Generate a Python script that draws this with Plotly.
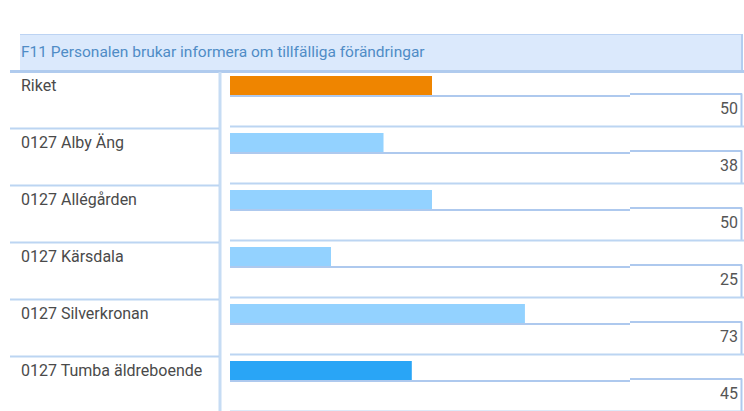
import plotly.graph_objects as go

# ---- data ----
categories = ["Riket", "0127 Alby Äng", "0127 Allégården", "0127 Kärsdala",
              "0127 Silverkronan", "0127 Tumba äldreboende"]
values = [50, 38, 50, 25, 73, 45]
title_text = "F11 Personalen brukar informera om tillfälliga förändringar"
bar_colors = ["#ef8500", "#93d2ff", "#93d2ff", "#93d2ff", "#93d2ff", "#29a5f6"]

W, H = 744, 411
ROW = 57.0          # pixel pitch of a row
FIRST = 85.5        # pixel centre of first bar
BAR_PX = 19.0
X0, X100 = 230, 634  # pixel positions of value 0 and 100

LINE = "#bcd5f2"
LINE_D = "#aec9ee"
LABEL_FONT = "Roboto"


def px(x):
    return x / W


def py(y):
    return 1 - y / H


shapes = []


def hline(x0, x1, y, w=2, color=LINE):
    shapes.append(dict(type="line", xref="paper", yref="paper",
                       x0=px(x0), x1=px(x1), y0=py(y), y1=py(y),
                       line=dict(color=color, width=w)))


def vline(x, y0, y1, w=2, color=LINE):
    shapes.append(dict(type="line", xref="paper", yref="paper",
                       x0=px(x), x1=px(x), y0=py(y0), y1=py(y1),
                       line=dict(color=color, width=w)))


# title box
shapes.append(dict(type="rect", xref="paper", yref="paper",
                   x0=px(20), x1=px(741), y0=py(70), y1=py(35),
                   fillcolor="#dbe9fc", line=dict(width=0), layer="below"))
hline(20, 743, 34.5, 1, "#bcd3f3")
vline(742, 34, 72, 2, "#b3cdf0")
hline(10, 744, 71.5, 3, "#b0cbee")
# vertical divider
vline(220, 72, 411, 3, "#c6dcf4")

annotations = [dict(text=title_text, xref="paper", yref="paper", x=px(19), y=py(52),
                    xanchor="left", yanchor="middle", showarrow=False,
                    font=dict(family=LABEL_FONT, size=15.5, color="#4f8cc6"))]

for i, (cat, v) in enumerate(zip(categories, values)):
    c = FIRST + ROW * i
    bot = c + BAR_PX / 2
    # line under bar
    hline(X0, 630, bot + 1, 2, LINE_D)
    # value box
    hline(630, 742, bot - 1, 2, LINE_D)
    vline(741.5, bot - 1.5, bot + 32, 2, LINE_D)
    hline(X0, 744, bot + 31.5, 2, LINE)
    # left separator (row boundary)
    if i < len(categories) - 1:
        hline(10, 219, bot + 33.5, 2, LINE)
    annotations.append(dict(text=cat, xref="paper", yref="y", x=px(19), y=i,
                            xanchor="left", yanchor="middle", showarrow=False,
                            font=dict(family=LABEL_FONT, size=16, color="#4a4a4a")))
    annotations.append(dict(text=str(v), xref="paper", yref="y", x=px(740), y=i + 23 / ROW,
                            xanchor="right", yanchor="middle", showarrow=False,
                            font=dict(family=LABEL_FONT, size=16, color="#555555")))

fig = go.Figure(go.Bar(
    x=values, y=list(range(len(values))), orientation="h",
    width=BAR_PX / ROW,
    marker=dict(color=bar_colors, line=dict(width=0)),
    hoverinfo="skip",
))

fig.update_layout(
    width=W, height=H, margin=dict(l=0, r=0, t=0, b=0),
    paper_bgcolor="white", plot_bgcolor="rgba(0,0,0,0)",
    showlegend=False, shapes=shapes, annotations=annotations,
    xaxis=dict(domain=[px(X0), px(X100)], range=[0, 100], visible=False, fixedrange=True),
    yaxis=dict(domain=[0, 1], range=[(H - FIRST) / ROW, -FIRST / ROW], visible=False,
               fixedrange=True),
)

fig.write_html("out.html", config={"displayModeBar": False},
               post_script="document.body.style.margin='0';document.body.style.overflow='hidden';")
